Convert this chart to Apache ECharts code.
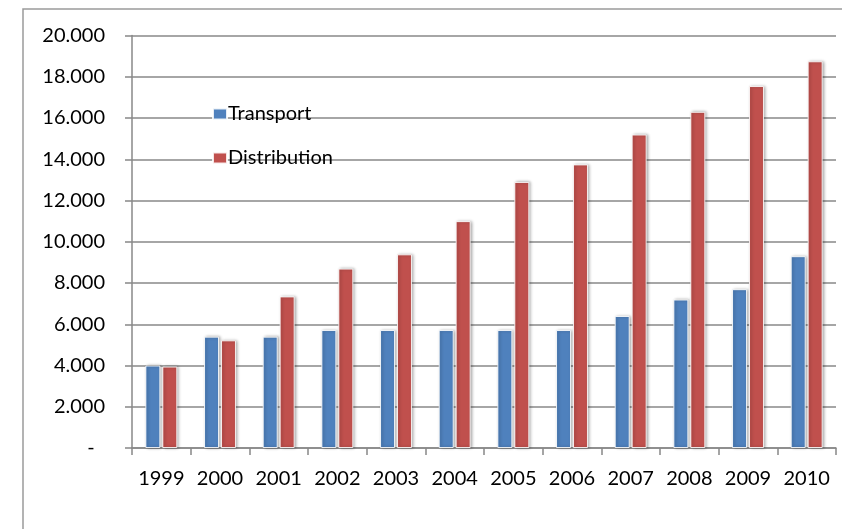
<!DOCTYPE html>
<html>
<head>
<meta charset="utf-8">
<script src="https://cdn.jsdelivr.net/npm/echarts@6/dist/echarts.min.js"></script>
<style>
  html, body { margin: 0; padding: 0; background: #fff; }
  #chart { width: 842px; height: 529px; }
</style>
</head>
<body>
<div id="chart"></div>
<script>
// Yearly figures, 1999–2010
const years = ['1999', '2000', '2001', '2002', '2003', '2004', '2005', '2006', '2007', '2008', '2009', '2010'];
const transport = [4000, 5400, 5400, 5720, 5720, 5720, 5720, 5720, 6400, 7200, 7700, 9300];
const distribution = [3950, 5220, 7350, 8700, 9390, 11000, 12900, 13750, 15200, 16300, 17550, 18750];
const yTicks = [0, 2000, 4000, 6000, 8000, 10000, 12000, 14000, 16000, 18000, 20000];

const font = 'Lato, "Open Sans", "Liberation Sans", sans-serif';

// Thousands with a dot separator; zero shown as a dash
function fmtThousands(v) {
  if (v === 0) return '-  ';
  return String(v).replace(/\B(?=(\d{3})+(?!\d))/g, '.');
}

const barStyle = (color) => ({
  color: color,
  borderColor: 'rgba(255,255,255,0.85)',
  borderWidth: 1,
  shadowColor: 'rgba(0,0,0,0.35)',
  shadowBlur: 3,
  shadowOffsetX: 1.5,
  shadowOffsetY: 0
});

const chart = echarts.init(document.getElementById('chart'), null, { renderer: 'canvas' });
chart.setOption({
  animation: false,
  backgroundColor: '#fff',
  graphic: [{
    type: 'rect',
    shape: { x: 23, y: 9, width: 840, height: 540 },
    style: { fill: 'none', stroke: '#9a9a9a', lineWidth: 1.5 },
    z: -1
  }],
  grid: { left: 132, top: 35.5, right: 6, bottom: 81, containLabel: false },
  legend: {
    orient: 'vertical',
    left: 207,
    top: 97,
    itemWidth: 14,
    itemHeight: 11,
    itemGap: 20,
    icon: 'rect',
    textStyle: { fontFamily: font, fontSize: 20, color: '#000', padding: [0, 0, 0, -4], lineHeight: 24 },
    data: ['Transport', 'Distribution']
  },
  xAxis: {
    type: 'category',
    data: years,
    axisLine: { lineStyle: { color: '#888', width: 1.5 } },
    axisTick: { show: true, length: 7, interval: 0, lineStyle: { color: '#888', width: 1.5 } },
    axisLabel: { fontFamily: font, fontSize: 20, color: '#000', margin: 21, interval: 0 }
  },
  yAxis: {
    type: 'value',
    min: 0,
    max: 20000,
    interval: 2000,
    axisLine: { show: true, lineStyle: { color: '#888', width: 1.5 } },
    axisTick: { show: true, length: 7, lineStyle: { color: '#888', width: 1.5 } },
    splitLine: { show: true, lineStyle: { color: '#888', width: 1.5 } },
    axisLabel: {
      fontFamily: font, fontSize: 20, color: '#000', margin: 27,
      formatter: (v) => yTicks.includes(v) ? fmtThousands(v) : ''
    }
  },
  series: [
    {
      name: 'Transport',
      type: 'bar',
      data: transport,
      barWidth: 15,
      barGap: '13%',
      itemStyle: barStyle('#4F81BD')
    },
    {
      name: 'Distribution',
      type: 'bar',
      data: distribution,
      barWidth: 15,
      barGap: '13%',
      itemStyle: barStyle('#C0504D')
    }
  ]
});
</script>
</body>
</html>
